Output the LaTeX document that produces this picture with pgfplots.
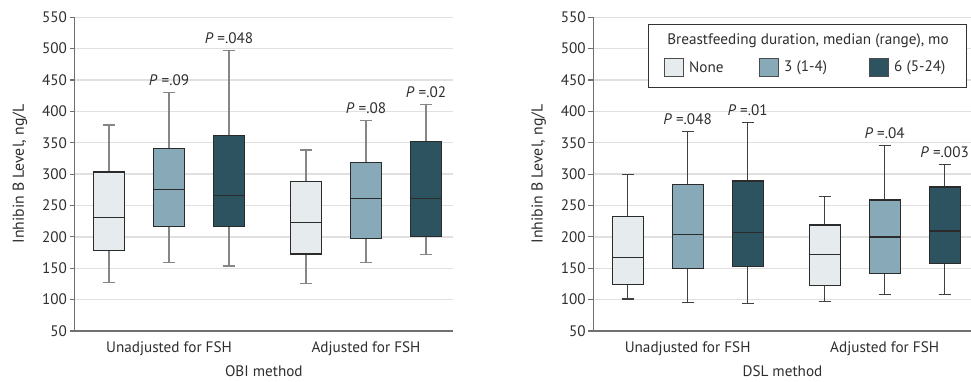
\documentclass[border=0pt]{standalone}
\usepackage{fontspec}
\setmainfont{PT Sans}
\usepackage{pgfplots}
\pgfplotsset{compat=1.18}
\definecolor{cLight}{HTML}{E6EBEE}
\definecolor{cMid}{HTML}{87A9B8}
\definecolor{cDark}{HTML}{2E5360}
\definecolor{cEdge}{HTML}{2B2B2B}
\definecolor{cAxis}{HTML}{707070}
\definecolor{cGrid}{HTML}{E0E0E0}
\definecolor{cText}{HTML}{2E2E2E}
\newcommand{\fs}{\fontsize{15.2}{17}\selectfont}
\tikzset{pl/.style={font=\fs, text=cText, anchor=base, yshift=7pt, inner sep=0pt}}
\pgfplotsset{
  panel/.style={
    scale only axis, width=378.3pt, height=313.7pt,
    xmin=-0.572, xmax=5.733, ymin=50, ymax=550,
    ytick={50,100,...,550},
    xtick={1,4.283},
    axis x line*=bottom, axis y line*=left,
    axis line style={cAxis, line width=1.2pt},
    ymajorgrids, grid style={cGrid, line width=1.4pt},
    tick align=outside, major tick length=5pt,
    ytick style={cAxis, line width=1.2pt},
    xtick style={draw=none},
    /pgf/number format/assume math mode=true,
    tick label style={font=\fs, text=cText},
    yticklabel style={inner xsep=2.5pt},
    label style={font=\fs, text=cText},
    ylabel={Inhibin B Level, ng/L},
    ylabel style={at={(axis description cs:-0.1446,0.5)}, anchor=center, font=\fontsize{15.8}{18}\selectfont},
    xlabel style={at={(axis description cs:0.5,0)}, yshift=-40pt, anchor=center},
    xticklabel style={yshift=-2pt},
    clip=false,
  },
  boxs/.style={draw=cEdge, line width=1.2pt, line join=miter, mark=none},
  med/.style={draw=cEdge, line width=1.5pt, mark=none},
}
% \bplot{position}{lower whisker}{lower quartile}{median}{upper quartile}{upper whisker}{fill}
\newcommand{\bplot}[7]{%
  \pgfmathsetmacro\xa{#1-0.2585}\pgfmathsetmacro\xb{#1+0.2585}%
  \pgfmathsetmacro\ca{#1-0.1}\pgfmathsetmacro\cb{#1+0.1}%
  \edef\temp{%
    \noexpand\addplot[whisk] coordinates {(#1,#2) (#1,#3)};
    \noexpand\addplot[whisk] coordinates {(#1,#5) (#1,#6)};
    \noexpand\addplot[whisk] coordinates {(\ca,#2) (\cb,#2)};
    \noexpand\addplot[whisk] coordinates {(\ca,#6) (\cb,#6)};
    \noexpand\addplot[boxs, fill=#7] coordinates {(\xa,#3) (\xb,#3) (\xb,#5) (\xa,#5)} -- cycle;
    \noexpand\addplot[med] coordinates {(\xa,#4) (\xb,#4)};
  }\temp}
\newcommand{\Pv}[1]{\textit{P} =#1}
\begin{document}
\begin{tikzpicture}
\useasboundingbox (0pt,0pt) rectangle (971pt,381pt);
% ---------------- Left panel: OBI method
\begin{axis}[panel, at={(74.7pt,50pt)}, anchor=south west,
  xticklabels={Unadjusted for FSH, Adjusted for FSH},
  xlabel={OBI method},
  whisk/.style={draw=gray!95, line width=1.5pt, mark=none}]
\bplot{0}{127.6}{178}{230.7}{303.5}{378.4}{cLight}
\bplot{1}{159}{216.8}{275.3}{341.2}{430.4}{cMid}
\bplot{2}{153.6}{216.8}{266.3}{361.4}{496.9}{cDark}
\bplot{3.283}{125.5}{172.7}{222.7}{288}{338.5}{cLight}
\bplot{4.283}{159}{197.7}{261.5}{318.9}{385.8}{cMid}
\bplot{5.283}{171.7}{200.4}{261}{352.3}{411.3}{cDark}
\node[pl] at (axis cs:1,430.4) {\Pv{.09}};
\node[pl] at (axis cs:2,496.9) {\Pv{.048}};
\node[pl] at (axis cs:4.283,385.8) {\Pv{.08}};
\node[pl] at (axis cs:5.283,411.3) {\Pv{.02}};
\end{axis}
% ---------------- Right panel: DSL method
\begin{axis}[panel, at={(593.3pt,50pt)}, anchor=south west,
  xticklabels={Unadjusted for FSH, Adjusted for FSH},
  xlabel={DSL method},
  whisk/.style={draw=black!75, line width=1.3pt, mark=none}]
\bplot{0}{101}{124.4}{166.9}{232.2}{299.7}{cLight}
\bplot{1}{95.2}{149.4}{204}{283.8}{367.7}{cMid}
\bplot{2}{94.1}{153.1}{207.3}{289.1}{382.6}{cDark}
\bplot{3.283}{97.3}{122.8}{172.2}{219}{264.7}{cLight}
\bplot{4.283}{108.4}{141.9}{199.8}{258.8}{345.4}{cMid}
\bplot{5.283}{108.4}{157.9}{209.4}{279.5}{315.1}{cDark}
\node[pl] at (axis cs:1,367.7) {\Pv{.048}};
\node[pl] at (axis cs:2,382.6) {\Pv{.01}};
\node[pl] at (axis cs:4.283,345.4) {\Pv{.04}};
\node[pl] at (axis cs:5.283,315.1) {\Pv{.003}};
\end{axis}
% ---------------- Legend
\begin{scope}[font=\fs, text=cText]
\draw[fill=white, draw=black!80, line width=1pt] (648.3pt,293.7pt) rectangle (966.7pt,356.7pt);
\node[anchor=center] at (808pt,340.3pt) {Breastfeeding duration, median (range), mo};
\draw[fill=cLight, draw=black!70, line width=0.9pt] (664.3pt,304.3pt) rectangle (683.3pt,322.7pt);
\node[anchor=west, inner sep=0pt] at (689pt,313.5pt) {None};
\draw[fill=cMid, draw=black!70, line width=0.9pt] (759.3pt,304.3pt) rectangle (778.7pt,322.7pt);
\node[anchor=west, inner sep=0pt] at (784pt,313.5pt) {3 (1-4)};
\draw[fill=cDark, draw=black!70, line width=0.9pt] (869.3pt,304.3pt) rectangle (888.7pt,322.7pt);
\node[anchor=west, inner sep=0pt] at (894pt,313.5pt) {6 (5-24)};
\end{scope}
\end{tikzpicture}
\end{document}
